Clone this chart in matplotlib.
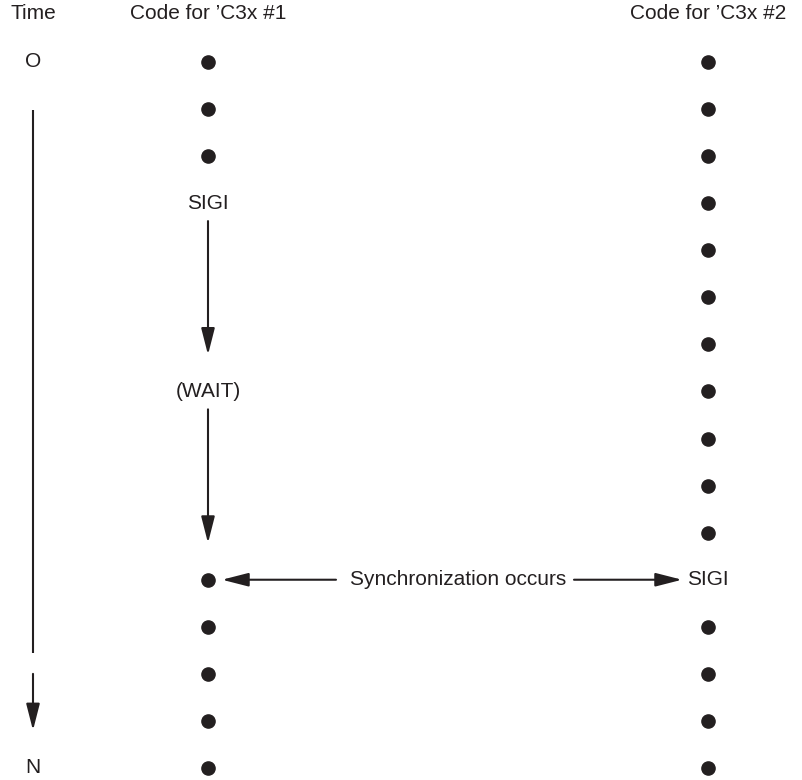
import matplotlib.pyplot as plt

# diagram content: one entry per time step (row)
steps = list(range(16))
time_labels = {0: "O", 15: "N"}
code1 = ["•", "•", "•", "SIGI", "", "", "", "(WAIT)", "", "", "", "•", "•", "•", "•", "•"]
code2 = ["•"] * 11 + ["SIGI"] + ["•"] * 4
headers = ["Time", "Code for \u2019C3x #1", "Code for \u2019C3x #2"]
sync_row = 11
sync_text = "Synchronization occurs"

INK = "#231f20"
FONT = "Liberation Sans"
FS = 15
x_time, x_c1, x_c2 = 33, 208, 708

fig = plt.figure(figsize=(8.03, 7.8), dpi=100)
ax = fig.add_axes([0, 0, 1, 1])
ax.set_xlim(0, 803)
ax.set_ylim(15.255, -1.317)
ax.axis("off")

for x, h in zip([x_time, x_c1, x_c2], headers):
    ax.text(x, -1.02, h, ha="center", va="center", fontsize=FS, family=FONT, color=INK)

for r, lab in time_labels.items():
    ax.text(x_time, r, lab, ha="center", va="center", fontsize=FS, family=FONT, color=INK)


def arrow(x0, y0, x1, y1):
    ax.annotate("", xy=(x1, y1), xytext=(x0, y0),
                arrowprops=dict(arrowstyle="-|>,head_length=0.9,head_width=0.23",
                                mutation_scale=18, lw=1.5, color=INK,
                                shrinkA=0, shrinkB=0))


def draw_column(x, events):
    for r, ev in zip(steps, events):
        if ev == "•":
            ax.plot(x, r, "o", ms=9.5, color=INK)
        elif ev:
            ax.text(x, r, ev, ha="center", va="center", fontsize=FS, family=FONT, color=INK)
    # waiting arrows between labelled steps
    labelled = [r for r, ev in zip(steps, events) if ev]
    for a, b in zip(labelled[:-1], labelled[1:]):
        if b - a > 1:
            arrow(x, a + 0.38, x, b - 0.78)


draw_column(x_c1, code1)
draw_column(x_c2, code2)

# time axis
ax.plot([x_time, x_time], [1.02, 12.55], color=INK, lw=1.5, solid_capstyle="butt")
arrow(x_time, 13.0, x_time, 14.2)

# synchronization
ax.text(458, sync_row, sync_text, ha="center", va="center", fontsize=FS, family=FONT, color=INK)
arrow(336, sync_row, 222, sync_row)
arrow(574, sync_row, 682, sync_row)

fig.savefig("out.png", dpi=100)
